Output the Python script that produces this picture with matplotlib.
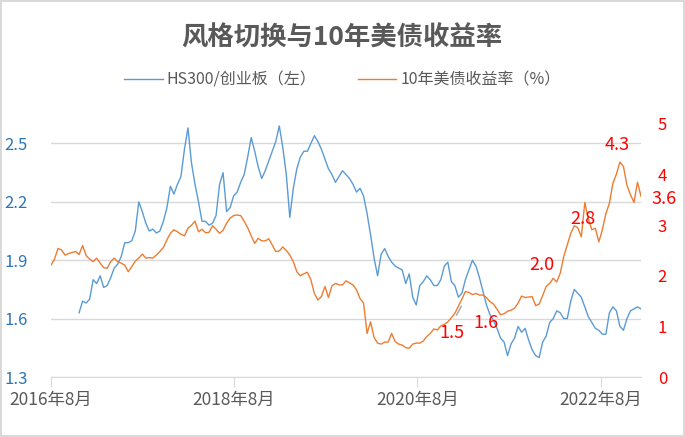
import matplotlib
matplotlib.use("Agg")
import matplotlib.pyplot as plt
import pandas as pd

plt.rcParams['font.family'] = ['Noto Sans CJK SC', 'DejaVu Sans']

title = "风格切换与10年美债收益率"
series_names = ["HS300/创业板（左）", "10年美债收益率（%）"]

# sampling: every 14 days from 2016-08-01
start_date = "2016-08-01"
freq = "14D"
blue_offset = 8  # blue series starts later

us10y = [
    2.21, 2.33, 2.54, 2.51, 2.41, 2.44, 2.46, 2.48, 2.42, 2.60,
    2.40, 2.33, 2.28, 2.35, 2.25, 2.16, 2.15, 2.28, 2.35, 2.28,
    2.25, 2.21, 2.08, 2.18, 2.29, 2.35, 2.43, 2.35, 2.36, 2.35,
    2.41, 2.48, 2.56, 2.71, 2.84, 2.91, 2.87, 2.82, 2.79, 2.94,
    3.00, 3.08, 2.87, 2.92, 2.85, 2.86, 2.99, 2.92, 2.84, 2.90,
    3.04, 3.14, 3.19, 3.20, 3.19, 3.08, 2.95, 2.79, 2.64, 2.74,
    2.69, 2.69, 2.73, 2.61, 2.48, 2.49, 2.57, 2.50, 2.41, 2.28,
    2.08, 2.00, 2.04, 2.07, 1.92, 1.65, 1.52, 1.59, 1.79, 1.57,
    1.80, 1.85, 1.82, 1.82, 1.90, 1.86, 1.82, 1.72, 1.55, 1.46,
    0.86, 1.09, 0.78, 0.67, 0.65, 0.69, 0.69, 0.86, 0.70, 0.65,
    0.63, 0.58, 0.57, 0.65, 0.67, 0.67, 0.71, 0.80, 0.86, 0.95,
    0.93, 1.01, 1.04, 1.09, 1.17, 1.26, 1.40, 1.54, 1.69, 1.67,
    1.63, 1.65, 1.62, 1.62, 1.57, 1.49, 1.44, 1.34, 1.23, 1.25,
    1.30, 1.32, 1.36, 1.46, 1.60, 1.57, 1.58, 1.59, 1.41, 1.44,
    1.61, 1.79, 1.85, 1.95, 1.88, 2.05, 2.38, 2.61, 2.84, 2.99,
    2.95, 2.77, 3.45, 3.12, 2.91, 2.94, 2.67, 2.91, 3.23, 3.43,
    3.83, 4.01, 4.25, 4.16, 3.79, 3.60, 3.45, 3.85, 3.57,
]

hs300_cyb = [
    1.63, 1.69, 1.68, 1.70, 1.80, 1.78, 1.82, 1.76, 1.77, 1.81,
    1.86, 1.88, 1.92, 1.99, 1.99, 2.00, 2.05, 2.20, 2.15, 2.09,
    2.05, 2.06, 2.04, 2.05, 2.10, 2.17, 2.28, 2.24, 2.29, 2.33,
    2.47, 2.58, 2.40, 2.29, 2.20, 2.10, 2.10, 2.08, 2.09, 2.13,
    2.29, 2.35, 2.15, 2.17, 2.23, 2.25, 2.30, 2.34, 2.43, 2.53,
    2.46, 2.38, 2.32, 2.36, 2.41, 2.46, 2.51, 2.59, 2.48, 2.34,
    2.12, 2.27, 2.37, 2.43, 2.46, 2.46, 2.50, 2.54, 2.51, 2.47,
    2.42, 2.37, 2.34, 2.30, 2.33, 2.36, 2.34, 2.32, 2.29, 2.25,
    2.27, 2.23, 2.14, 2.03, 1.91, 1.82, 1.93, 1.96, 1.92, 1.89,
    1.87, 1.86, 1.85, 1.78, 1.83, 1.71, 1.67, 1.77, 1.79, 1.82,
    1.80, 1.77, 1.77, 1.80, 1.87, 1.89, 1.79, 1.77, 1.71, 1.73,
    1.80, 1.85, 1.90, 1.87, 1.81, 1.74, 1.67, 1.62, 1.59, 1.55,
    1.50, 1.48, 1.41, 1.47, 1.50, 1.56, 1.53, 1.55, 1.49, 1.44,
    1.41, 1.40, 1.48, 1.51, 1.58, 1.60, 1.64, 1.63, 1.60, 1.60,
    1.69, 1.75, 1.73, 1.71, 1.66, 1.61, 1.58, 1.55, 1.54, 1.52,
    1.52, 1.63, 1.66, 1.64, 1.56, 1.54, 1.60, 1.64, 1.65, 1.66,
    1.65,
]

x_tick_dates = ["2016-08-01", "2018-08-01", "2020-08-01", "2022-08-01"]
x_tick_labels = ["2016年8月", "2018年8月", "2020年8月", "2022年8月"]
left_ticks = [1.3, 1.6, 1.9, 2.2, 2.5]
right_ticks = [0, 1, 2, 3, 4, 5]

ann_labels = ["1.5", "1.6", "2.0", "2.8", "4.3", "3.6"]
ann_dates = ["2020-12-15", "2021-04-29", "2021-12-08", "2022-05-21", "2022-10-07", "2023-04-12"]
ann_y = [0.87, 1.07, 2.21, 3.13, 4.59, 3.52]

dates = pd.date_range(start_date, periods=len(us10y), freq=freq)
blue_dates = dates[blue_offset:blue_offset + len(hs300_cyb)]

BLUE = "#5B9BD5"
ORANGE = "#ED7D31"
GRAY_TXT = "#595959"
GRID = "#D9D9D9"

fig = plt.figure(figsize=(6.85, 4.37), dpi=100)
fig.patch.set_edgecolor(GRID)
fig.patch.set_linewidth(1.5)
ax = fig.add_axes([51 / 685, 60 / 437, 590 / 685, 253 / 437])
ax2 = ax.twinx()

l1, = ax.plot(blue_dates, hs300_cyb, color=BLUE, lw=1.0)
l2, = ax2.plot(dates, us10y, color=ORANGE, lw=1.0)

ax.set_xlim(pd.Timestamp(start_date), dates[-1])
ax.set_ylim(1.3, 2.6)
ax2.set_ylim(0, 5)

ax.set_yticks(left_ticks)
ax.set_yticklabels([f"{v:.1f}" for v in left_ticks])
ax2.set_yticks(right_ticks)
ax2.set_yticklabels([str(v) for v in right_ticks])
ax.set_xticks([pd.Timestamp(d) for d in x_tick_dates])
ax.set_xticklabels(x_tick_labels)

ax.yaxis.grid(True, color=GRID, lw=1)
ax.set_axisbelow(True)
for a in (ax, ax2):
    for s in ["top", "left", "right"]:
        a.spines[s].set_visible(False)
    a.spines["bottom"].set_color(GRID)
ax2.spines["bottom"].set_visible(False)

ax.tick_params(axis="y", length=0, pad=17, labelsize=12, labelcolor="#2E75B6")
ax2.tick_params(axis="y", length=0, pad=12, labelsize=12, labelcolor="#FF0000")
ax.tick_params(axis="x", length=7, color=GRID, pad=3, labelsize=12.5, labelcolor=GRAY_TXT)

for lab, d, y in zip(ann_labels, ann_dates, ann_y):
    if lab == "1.5":
        ax2.annotate(lab, xy=(pd.Timestamp("2021-01-23"), 1.40),
                     xytext=(pd.Timestamp(d), y), textcoords="data",
                     ha="center", va="center", fontsize=13, color="#FF0000",
                     arrowprops=dict(arrowstyle="-", color="#A5A5A5", lw=1,
                                     relpos=(0.5, 1.0), shrinkA=5, shrinkB=0))
    else:
        ax2.text(pd.Timestamp(d), y, lab, ha="center", va="center",
                 fontsize=13, color="#FF0000", clip_on=False)

fig.text(0.4993, 1 - 38 / 437, title, ha="center", va="center",
         fontsize=19, fontweight="bold", color=GRAY_TXT)

leg = fig.legend([l1, l2], series_names, loc="center", bbox_to_anchor=(0.5, 1 - 80 / 437),
                 ncol=2, frameon=False, fontsize=11.5, handlelength=2.4,
                 handletextpad=0.25, columnspacing=2.6, labelcolor=GRAY_TXT)

fig.savefig("out.png", dpi=100, edgecolor=fig.get_edgecolor())
